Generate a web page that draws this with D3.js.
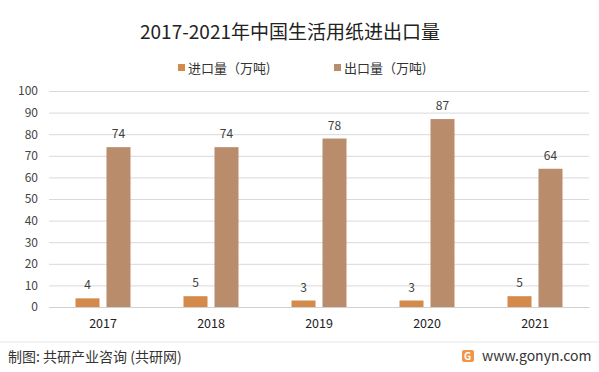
<!DOCTYPE html>
<html>
<head>
<meta charset="utf-8">
<script src="https://cdn.jsdelivr.net/npm/d3@7"></script>
<style>
body{margin:0;background:#fff;}
text{font-family:"Noto Sans CJK SC","Liberation Sans",sans-serif;}
</style>
</head>
<body>
<svg id="chart" width="599" height="372"></svg>
<script>
var years = ["2017","2018","2019","2020","2021"];
var importVals = [4,5,3,3,5];
var exportVals = [74,74,78,87,64];
var seriesNames = ["进口量（万吨)","出口量（万吨)"];
var yTicks = [0,10,20,30,40,50,60,70,80,90,100];

var colors = ["#d48a4a","#b98c6b"];

var svg = d3.select("#chart");
var margin = {top: 91, right: 10, bottom: 65, left: 49};

var x = d3.scaleBand().domain(years).range([0, 540]).paddingInner(0).paddingOuter(0);
var y = d3.scaleLinear().domain([0,100]).range([216,0]);

// title
svg.append("text")
    .attr("x", 290).attr("y", 39)
    .attr("text-anchor","middle")
    .attr("font-size", 19)
    .attr("fill","#222")
    .text("2017-2021年中国生活用纸进出口量");

// legend
var legX = [178, 334];
seriesNames.forEach(function(n,i){
    svg.append("rect").attr("x", legX[i]).attr("y", 64).attr("width",7).attr("height",7).attr("fill",colors[i]);
    svg.append("text").attr("x", legX[i]+10).attr("y", 73)
        .attr("font-size", 13).attr("fill","#333").text(n);
});

var g = svg.append("g").attr("transform","translate(" + margin.left + "," + margin.top + ")");

// grid
var yAxis = d3.axisLeft(y).tickValues(yTicks).tickSize(-540).tickPadding(11);
var gY = g.append("g").call(yAxis);
gY.select(".domain").remove();
gY.selectAll(".tick line").attr("stroke","#d9d9d9").attr("stroke-width",1);
gY.selectAll(".tick text").attr("font-size",12).attr("fill","#444").attr("font-family","Liberation Sans, sans-serif");

// bars
var barW = 24, gap = 7;
var offs = [-(barW + gap/2), gap/2];
[importVals, exportVals].forEach(function(vals, s){
    g.selectAll(".bar" + s).data(vals).enter().append("rect")
        .attr("x", function(d,i){ return x(years[i]) + x.bandwidth()/2 + offs[s]; })
        .attr("y", function(d){ return y(d); })
        .attr("width", barW)
        .attr("height", function(d){ return y(0) - y(d); })
        .attr("fill", colors[s]);
    g.selectAll(".lab" + s).data(vals).enter().append("text")
        .attr("x", function(d,i){ return x(years[i]) + x.bandwidth()/2 + offs[s] + barW/2; })
        .attr("y", function(d){ return y(d) - 9; })
        .attr("text-anchor","middle")
        .attr("font-size",12).attr("fill","#404040")
        .attr("font-family","Liberation Sans, sans-serif")
        .text(function(d){ return d; });
});

// x axis
var xAxis = d3.axisBottom(x).tickSize(0).tickPadding(12);
var gX = g.append("g").attr("transform","translate(0," + y(0) + ")").call(xAxis);
gX.select(".domain").attr("stroke","#d0d0d0");
gX.selectAll(".tick text").attr("font-size",12.5).attr("fill","#222").attr("font-family","Liberation Sans, sans-serif");

// footer
svg.append("line").attr("x1",0).attr("x2",599).attr("y1",342).attr("y2",342).attr("stroke","#e6e6e6");
svg.append("text").attr("x",8).attr("y",362).attr("font-size",14).attr("fill","#333")
    .text("制图: 共研产业咨询 (共研网)");
svg.append("rect").attr("x",462).attr("y",350).attr("width",12).attr("height",12).attr("rx",2).attr("fill","#f0954a");
svg.append("text").attr("x",467.5).attr("y",360).attr("text-anchor","middle").attr("font-size",10).attr("font-weight","bold").attr("fill","#fff").text("G");
svg.append("text").attr("x",482).attr("y",361).attr("font-size",14).attr("fill","#333")
    .attr("font-family","Liberation Sans, sans-serif").text("www.gonyn.com");
</script>
</body>
</html>
